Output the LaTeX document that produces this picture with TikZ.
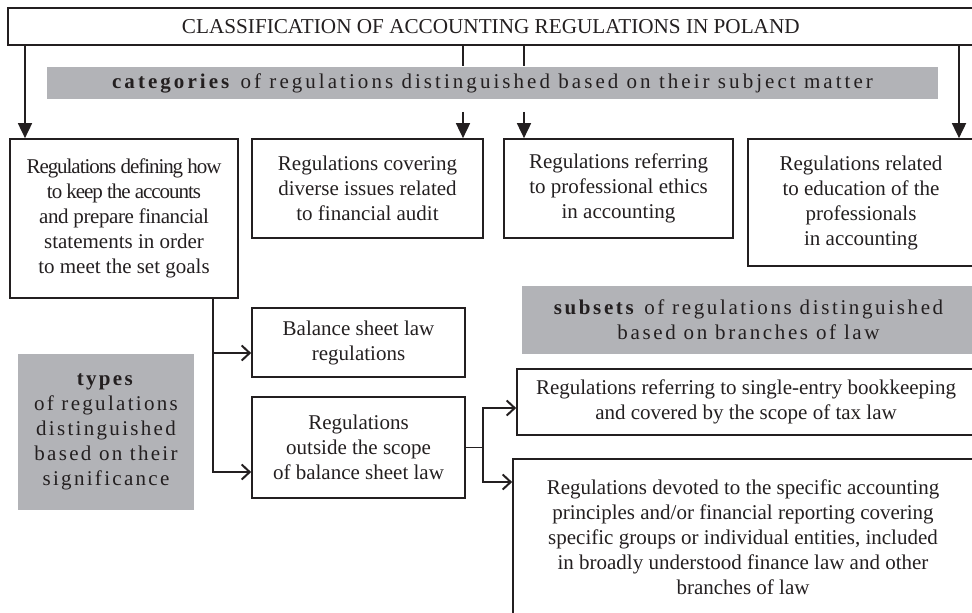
\documentclass[tikz,border=0pt]{standalone}
\usepackage{fontspec}
\setmainfont{Liberation Serif}
\usetikzlibrary{arrows.meta}
\usetikzlibrary{positioning}
\definecolor{bandgray}{RGB}{178,179,183}
\definecolor{inkgray}{RGB}{35,31,32}

\begin{document}
\begin{tikzpicture}[x=0.5pt,y=-0.5pt,line width=0.85pt,
    main node/.style={rectangle,draw=inkgray,align=center,inner sep=2pt,text=inkgray,
        font=\fontsize{10.5}{12.5}\selectfont},
    band node/.style={rectangle,fill=bandgray,align=center,inner sep=2pt,text=inkgray,
        font=\fontsize{10.5}{12.5}\selectfont\addfontfeatures{LetterSpace=11}},
    big arrow/.style={draw=inkgray,-{Triangle[length=7.5pt,width=7pt]}},
    small arrow/.style={draw=inkgray,-{Straight Barb[length=4pt,width=7.5pt,line width=1pt]}}]

\clip (0,0) rectangle (972,612);

% top level
\node[main node,anchor=north west,minimum width=483pt,minimum height=18.5pt,
      font=\fontsize{10.6}{12}\selectfont] (title) at (7,7)
    {CLASSIFICATION OF ACCOUNTING REGULATIONS IN POLAND};
\node[band node,minimum width=445.5pt,minimum height=16pt,
      font=\fontsize{10.5}{12.5}\selectfont\addfontfeatures{LetterSpace=14.5}] (cat) at (492.5,83)
    {\textbf{categories} of regulations distinguished based on their subject matter};

% categories
\node[main node,minimum width=114pt,minimum height=79.5pt] (keep) at (124,218.5)
    {{\addfontfeatures{LetterSpace=-5}Regulations defining how}\\
     {\addfontfeatures{LetterSpace=-5}to keep the accounts}\\
     {\addfontfeatures{LetterSpace=-2}and prepare financial}\\ statements in order\\ to meet the set goals};
\node[main node,minimum width=115.5pt,minimum height=49.5pt] (audit) at (367.5,188.5)
    {Regulations covering\\ diverse issues related\\ to financial audit};
\node[main node,minimum width=114.5pt,minimum height=49.5pt] (ethics) at (618.5,188.5)
    {Regulations referring\\ to professional ethics\\ in accounting};
\node[main node,minimum width=113pt,minimum height=63.5pt] (edu) at (861,202.5)
    {Regulations related\\ to education of the\\ professionals\\ in accounting};

% types
\node[band node,minimum width=88pt,minimum height=78pt] (types) at (106,432)
    {\textbf{types}\\ of regulations\\ distinguished\\ based on their\\ significance};
\node[main node,minimum width=106.5pt,minimum height=34.5pt] (bal) at (358.5,342.5)
    {Balance sheet law\\ regulations};
\node[main node,minimum width=106.5pt,minimum height=50.5pt] (out) at (358.5,447.5)
    {Regulations\\ outside the scope\\ of balance sheet law};

% subsets
\node[band node,minimum width=226.5pt,minimum height=34pt,
      font=\fontsize{10.5}{12.5}\selectfont\addfontfeatures{LetterSpace=12.5}] (subs) at (748.5,320)
    {\textbf{subsets} of regulations distinguished\\ based on branches of law};
\node[main node,minimum width=229pt,minimum height=33pt] (tax) at (746,402)
    {Regulations referring to single-entry bookkeeping\\ and covered by the scope of tax law};
\node[main node,minimum width=230pt,minimum height=78pt] (fin) at (743,537)
    {Regulations devoted to the specific accounting\\
     principles and/or financial reporting covering\\
     specific groups or individual entities, included\\
     in broadly understood finance law and other\\
     branches of law};

\coordinate (c1) at (25,0);
\coordinate (c2) at (463,0);
\coordinate (c3) at (524,0);
\coordinate (c4) at (959,0);
\coordinate (t1) at (213,353);
\coordinate (t2) at (213,472);
\coordinate (b1) at (483,408);
\coordinate (b2) at (483,482);

\draw[big arrow] (title.south -| c1) -- (keep.north -| c1);
\draw[draw=inkgray] (title.south -| c2) -- (cat.north -| c2);
\draw[draw=inkgray] (title.south -| c3) -- (cat.north -| c3);
\draw[big arrow,shorten <=6pt] (cat.south -| c2) -- (audit.north -| c2);
\draw[big arrow,shorten <=6pt] (cat.south -| c3) -- (ethics.north -| c3);
\draw[big arrow] (title.south -| c4) -- (edu.north -| c4);

\draw[small arrow] (keep.south -| t1) |- (bal.west |- t1);
\draw[small arrow] (keep.south -| t2) |- (out.west |- t2);

\draw[draw=inkgray] (out.east) -- (out.east -| b1);
\draw[small arrow] (out.east -| b1) |- (tax.west |- b1);
\draw[small arrow] (out.east -| b2) |- (fin.west |- b2);

\end{tikzpicture}
\end{document}
